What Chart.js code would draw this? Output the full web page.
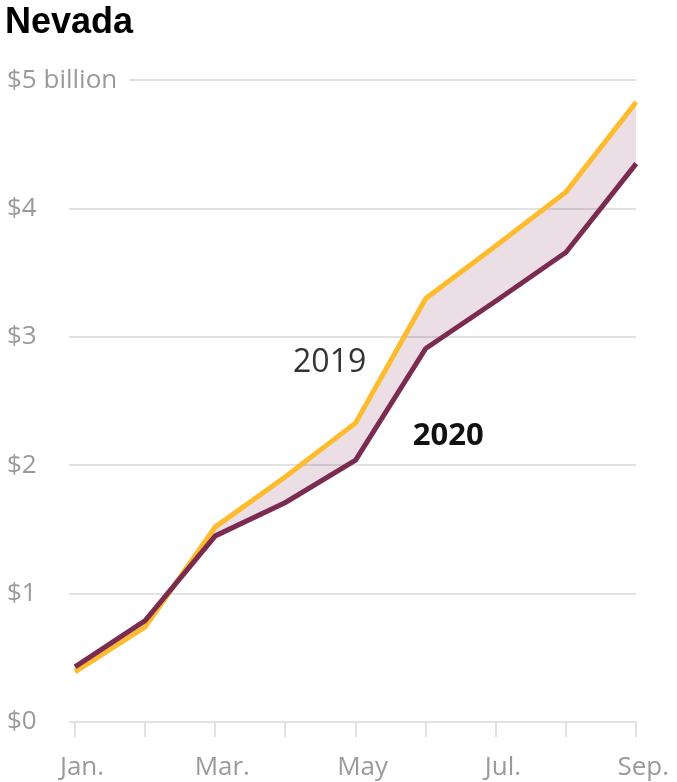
<!DOCTYPE html>
<html>
<head>
<meta charset="utf-8">
<style>
  html, body { margin: 0; padding: 0; background: #fff; }
  #wrap { width: 677px; height: 782px; }
</style>
<script src="https://cdn.jsdelivr.net/npm/chart.js@4"></script>
</head>
<body>
<div id="wrap"><canvas id="chartNevada"></canvas></div>
<script>
// monthly cumulative revenue, billions of dollars
var meses = ['Jan.', 'Feb.', 'Mar.', 'Apr.', 'May', 'Jun.', 'Jul.', 'Aug.', 'Sep.'];
var etiquetasMes = ['Jan.', '', 'Mar.', '', 'May', '', 'Jul.', '', 'Sep.'];
var valores2019 = [0.39, 0.74, 1.52, 1.91, 2.33, 3.30, 3.71, 4.13, 4.83];
var valores2020 = [0.43, 0.79, 1.45, 1.71, 2.04, 2.91, 3.28, 3.66, 4.35];
var ticksY = [0, 1, 2, 3, 4, 5];

// series labels placed in data coordinates (month index, value)
var etiquetas = [
    { text: '2019', x: 3.63, y: 2.80, font: '32px "Open Sans"', color: '#333' },
    { text: '2020', x: 5.32, y: 2.23, font: 'bold 31px "Open Sans"', color: '#111' }
];

var gris = '#9a9a9a';
var rejilla = '#e2e2e2';

var etiquetasPlugin = {
    id: 'etiquetas',
    afterDatasetsDraw: function (chart) {
        var ctx = chart.ctx;
        var sx = chart.scales.x, sy = chart.scales.y;
        ctx.save();
        ctx.textAlign = 'center';
        ctx.textBaseline = 'middle';
        etiquetas.forEach(function (e) {
            ctx.font = e.font;
            ctx.fillStyle = e.color;
            ctx.fillText(e.text, sx.getPixelForValue(e.x), sy.getPixelForValue(e.y));
        });
        ctx.restore();
    }
};

new Chart(document.getElementById('chartNevada'), {
    type: 'line',
    data: {
        labels: meses,
        datasets: [
            {
                label: '2020', data: valores2020,
                borderColor: '#7b2a50', borderWidth: 5,
                pointRadius: 0, tension: 0,
                fill: { target: '+1', above: 'rgba(123,42,80,0.15)', below: 'rgba(123,42,80,0.15)' }
            },
            {
                label: '2019', data: valores2019,
                borderColor: '#fdbb2d', borderWidth: 5,
                pointRadius: 0, tension: 0, fill: false
            }
        ]
    },
    options: {
        responsive: true,
        maintainAspectRatio: false,
        animation: false,
        layout: { padding: { left: 5, right: 40, top: 0, bottom: 0 } },
        plugins: {
            legend: { display: false },
            tooltip: { enabled: false },
            filler: { drawTime: 'beforeDatasetsDraw' },
            title: {
                display: true,
                text: 'Nevada',
                align: 'start',
                color: '#000',
                font: { family: '"Liberation Sans", Arial, sans-serif', size: 36, weight: 'bold' },
                padding: { top: 1, bottom: 36 }
            }
        },
        scales: {
            x: {
                offset: false,
                border: { display: false },
                grid: { drawOnChartArea: false, drawTicks: true, tickLength: 15, color: rejilla, lineWidth: 2 },
                ticks: {
                    autoSkip: false, maxRotation: 0, padding: 15, labelOffset: 7,
                    color: gris,
                    font: { family: '"Open Sans"', size: 26 },
                    callback: function (v, i) { return etiquetasMes[i]; }
                },
                afterFit: function (s) { s.height = 60; }
            },
            y: {
                min: 0, max: 5,
                border: { display: false },
                grid: { color: rejilla, lineWidth: 2, tickLength: 6 },
                afterBuildTicks: function (s) { s.ticks = ticksY.map(function (v) { return { value: v }; }); },
                afterFit: function (s) { s.width = 70; },
                ticks: {
                    // mirrored so the long top label is not clipped at the axis edge
                    mirror: true,
                    crossAlign: 'near',
                    padding: -68,
                    color: gris,
                    font: { family: '"Open Sans"', size: 26 },
                    showLabelBackdrop: true,
                    backdropColor: '#fff',
                    backdropPadding: { left: 0, top: 0, bottom: 0, right: 12 },
                    callback: function (v) { return v === 5 ? '$5 billion' : '$' + v; }
                }
            }
        }
    },
    plugins: [etiquetasPlugin]
});
</script>
</body>
</html>
